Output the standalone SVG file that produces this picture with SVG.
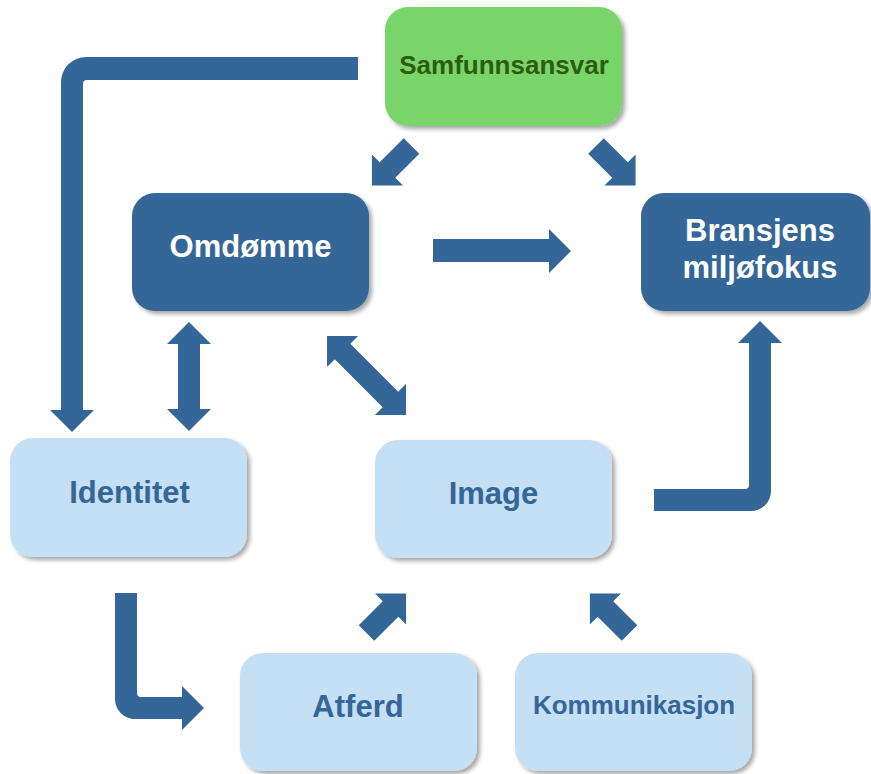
<svg xmlns="http://www.w3.org/2000/svg" xmlns:xlink="http://www.w3.org/1999/xlink" width="871" height="774" viewBox="0 0 871 774">
  <style>
    .box { filter: url(#shadow); }
    .dark { fill: #356698; }
    .light { fill: #c5dff4; }
    .green { fill: #79d56b; }
    .t { font-family: "Liberation Sans", Arial, sans-serif; font-weight: bold; text-anchor: middle; }
    .tw { fill: #ffffff; font-size: 31px; }
    .tb { fill: #356698; font-size: 31px; }
    .tg { fill: #2e5c0e; font-size: 26px; }
    .arrow { fill: #356698; }
  </style>
  <defs>
    <filter id="shadow" x="-10%" y="-10%" width="125%" height="130%">
      <feDropShadow dx="3" dy="3" stdDeviation="2" flood-color="#000000" flood-opacity="0.35"/>
    </filter>
    <polygon id="a56" points="0,-11 34,-11 34,-22 56,0 34,22 34,11 0,11"/>
  </defs>

  <g id="connectors" class="arrow">
    <path d="M 358 57 H 86 A 25 25 0 0 0 61 82 V 410 H 50 L 72 432 L 94 410 H 83 V 84 A 4 4 0 0 1 87 80 H 358 Z"/>
    <use xlink:href="#a56" href="#a56" transform="translate(411.5,146) rotate(135)"/>
    <use xlink:href="#a56" href="#a56" transform="translate(596,146) rotate(45)"/>
    <polygon points="433,239 549,239 549,229 571,251 549,273 549,262 433,262"/>
    <polygon points="189,322 211,344 200,344 200,409 211,409 189,431 167,409 178,409 178,344 167,344"/>
    <polygon transform="translate(327,336) rotate(45)" points="0,0 22,-22 22,-11 89.7,-11 89.7,-22 111.7,0 89.7,22 89.7,11 22,11 22,22"/>
    <path d="M 654 489 H 745 A 4 4 0 0 0 749 485 V 343 H 738 L 760 321 L 782 343 H 771 V 491 A 20 20 0 0 1 751 511 H 654 Z"/>
    <path d="M 115 593 H 137 V 693 A 4 4 0 0 0 141 697 H 182 V 686 L 204 708 L 182 730 V 719 H 135 A 20 20 0 0 1 115 699 Z"/>
    <use xlink:href="#a56" href="#a56" transform="translate(366.5,633) rotate(-45)"/>
    <use xlink:href="#a56" href="#a56" transform="translate(629.5,633) rotate(-135)"/>
  </g>

  <g id="samfunnsansvar">
    <rect class="box green" x="385" y="7" width="237" height="119" rx="23"/>
    <text class="t tg" x="504" y="74">Samfunnsansvar</text>
  </g>
  <g id="omdomme">
    <rect class="box dark" x="132" y="193" width="237" height="118" rx="23"/>
    <text class="t tw" x="250.5" y="257">Omdømme</text>
  </g>
  <g id="bransjens">
    <rect class="box dark" x="641" y="193" width="229" height="118" rx="23"/>
    <text class="t tw" x="760" y="241">Bransjens</text>
    <text class="t tw" x="760" y="278">miljøfokus</text>
  </g>
  <g id="identitet">
    <rect class="box light" x="10" y="438" width="237" height="119" rx="23"/>
    <text class="t tb" x="129.5" y="503">Identitet</text>
  </g>
  <g id="image">
    <rect class="box light" x="375" y="440" width="237" height="118" rx="23"/>
    <text class="t tb" x="493.5" y="504">Image</text>
  </g>
  <g id="atferd">
    <rect class="box light" x="240" y="653" width="237" height="118" rx="23"/>
    <text class="t tb" x="358" y="717">Atferd</text>
  </g>
  <g id="kommunikasjon">
    <rect class="box light" x="515" y="653" width="237" height="118" rx="23"/>
    <text class="t tb" x="634" y="714" style="font-size:26px">Kommunikasjon</text>
  </g>
</svg>
